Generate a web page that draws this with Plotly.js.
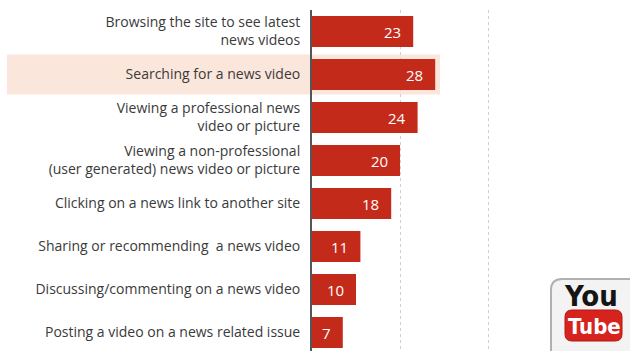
<!DOCTYPE html>
<html>
<head>
<meta charset="utf-8">
<script src="https://cdn.plot.ly/plotly-3.0.1.min.js"></script>
<style>
html,body{margin:0;padding:0;background:#fff;overflow:hidden;}
#chart{width:630px;height:356px;}
</style>
</head>
<body>
<div id="chart"></div>
<script>
const categories = [
  "Browsing the site to see latest<br>news videos",
  "Searching for a news video",
  "Viewing a professional news<br>video or picture",
  "Viewing a non-professional<br>(user generated) news video or picture",
  "Clicking on a news link to another site",
  "Sharing or recommending  a news video",
  "Discussing/commenting on a news video",
  "Posting a video on a news related issue"
];
const values = [23, 28, 24, 20, 18, 11, 10, 7];
const highlighted = "Searching for a news video";

const W = 630, H = 356, L = 312, R = 120, T = 10, B = 2;
const pw = W - L - R, ph = H - T - B;
const px = x => (x - L) / pw;
const py = y => 1 - (y - T) / ph;

const red = "#c42a1a";

const trace = {
  type: "bar",
  orientation: "h",
  y: categories,
  x: values,
  marker: {color: red},
  width: 0.72,
  hoverinfo: "skip"
};

const annotations = values.map((v, i) => ({
  x: v, y: categories[i], xref: "x", yref: "y",
  text: String(v), showarrow: false,
  xanchor: "right", xshift: -10,
  font: {family: "Open Sans, sans-serif", size: 15, color: "#ffffff"}
}));

// YouTube logo drawn as shapes + text
annotations.push({
  xref: "paper", yref: "paper", x: px(591), y: py(296),
  text: "<b>You</b>", showarrow: false, xanchor: "center", yanchor: "middle",
  font: {family: "DejaVu Sans Condensed, Liberation Sans Narrow, sans-serif", size: 29, color: "#151515"}
});
annotations.push({
  xref: "paper", yref: "paper", x: px(594), y: py(326),
  text: "<b>Tube</b>", showarrow: false, xanchor: "center", yanchor: "middle",
  font: {family: "DejaVu Sans Condensed, Liberation Sans Narrow, sans-serif", size: 22, color: "#fff"}
});

function roundRect(x0, y0, x1, y1, r) {
  const X = v => px(v), Y = v => py(v);
  return `M${X(x0 + r)},${Y(y0)} L${X(x1 - r)},${Y(y0)} Q${X(x1)},${Y(y0)} ${X(x1)},${Y(y0 + r)} ` +
         `L${X(x1)},${Y(y1 - r)} Q${X(x1)},${Y(y1)} ${X(x1 - r)},${Y(y1)} ` +
         `L${X(x0 + r)},${Y(y1)} Q${X(x0)},${Y(y1)} ${X(x0)},${Y(y1 - r)} ` +
         `L${X(x0)},${Y(y0 + r)} Q${X(x0)},${Y(y0)} ${X(x0 + r)},${Y(y0)} Z`;
}

const hiIndex = categories.indexOf(highlighted);
const shapes = [
  {
    type: "rect", xref: "paper", yref: "y", layer: "below",
    x0: px(7), x1: px(440), y0: hiIndex - 0.465, y1: hiIndex + 0.465,
    fillcolor: "#fbe6dc", line: {width: 0}
  },
  {
    type: "path", xref: "paper", yref: "paper", layer: "above",
    path: roundRect(551, 279, 640, 368, 11),
    fillcolor: "#f3f3f3", line: {color: "#b0b0b0", width: 2}
  },
  {
    type: "path", xref: "paper", yref: "paper", layer: "above",
    path: roundRect(565, 310, 622, 341, 7),
    fillcolor: "#d6231e", line: {color: "#b01a16", width: 1}
  }
];

const layout = {
  width: W, height: H,
  margin: {l: L, r: R, t: T, b: B, pad: 0},
  paper_bgcolor: "#fff", plot_bgcolor: "rgba(0,0,0,0)",
  showlegend: false,
  bargap: 0.28,
  xaxis: {
    range: [0, 45], showticklabels: false, ticks: "",
    showgrid: true, gridcolor: "#cfcfcf", griddash: "3px,3px", gridwidth: 1,
    tickvals: [20, 40], zeroline: false, showline: false, fixedrange: true
  },
  yaxis: {
    autorange: "reversed", type: "category",
    showline: true, linecolor: "#555", linewidth: 2,
    ticks: "outside", ticklen: 7, tickcolor: "rgba(0,0,0,0)",
    showgrid: false, zeroline: false,
    tickfont: {family: "Open Sans, sans-serif", size: 14, color: "#3a3a3a"},
    fixedrange: true
  },
  shapes: shapes,
  annotations: annotations
};

Plotly.newPlot("chart", [trace], layout, {displayModeBar: false, staticPlot: true});
</script>
</body>
</html>
